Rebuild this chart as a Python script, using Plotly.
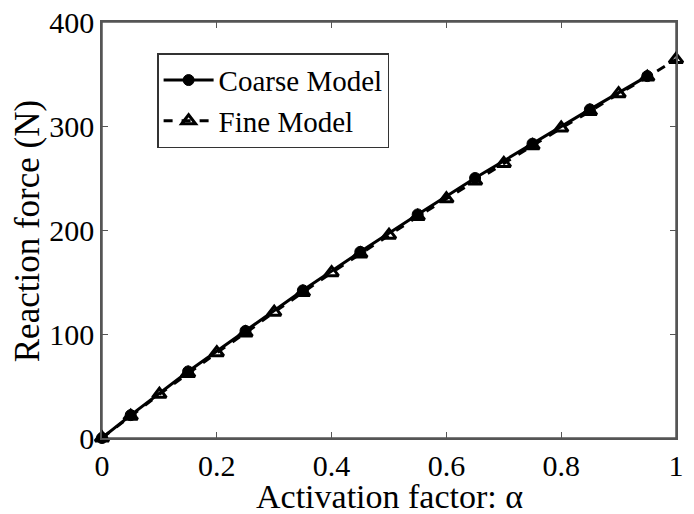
import plotly.graph_objects as go

coarse_x = [0, 0.05, 0.15, 0.25, 0.35, 0.45, 0.55, 0.65, 0.75, 0.85, 0.95]
coarse_y = [0, 22, 64, 103, 142, 179, 215, 250, 283, 316, 348]

fine_x = [0, 0.05, 0.1, 0.15, 0.2, 0.25, 0.3, 0.35, 0.4, 0.45, 0.5,
          0.55, 0.6, 0.65, 0.7, 0.75, 0.8, 0.85, 0.9, 0.95, 1.0]
fine_y = [0, 21, 42, 62, 82, 101, 121, 140, 159, 177, 195,
          213, 230, 247, 264, 281, 298, 314, 331, 347, 364]

x_ticks = [0, 0.2, 0.4, 0.6, 0.8, 1]
x_tick_labels = ["0", "0.2", "0.4", "0.6", "0.8", "1"]
y_ticks = [0, 100, 200, 300, 400]
y_tick_labels = ["0", "100", "200", "300", "400"]

x_title = "Activation factor: α"
y_title = "Reaction force (N)"

font_family = "Liberation Serif"

fig = go.Figure()
fig.add_trace(go.Scatter(
    x=coarse_x, y=coarse_y, name="Coarse Model", mode="lines+markers",
    line=dict(color="black", width=3),
    marker=dict(symbol="circle", size=11, color="black",
                line=dict(color="black", width=1)),
    cliponaxis=False,
))
fig.add_trace(go.Scatter(
    x=fine_x, y=fine_y, name="Fine Model", mode="lines+markers",
    line=dict(color="black", width=3, dash="dash"),
    marker=dict(symbol="triangle-up-open", size=12, color="black",
                line=dict(color="black", width=3)),
    cliponaxis=False,
))

axis_common = dict(
    showline=True, linecolor="#555555", linewidth=1.5, mirror="ticks",
    ticks="inside", ticklen=6, tickcolor="#555555", tickwidth=1,
    showgrid=False, zeroline=False, automargin=False,
    ticklabeloverflow="allow",
    tickfont=dict(family=font_family, size=30, color="black"),
)

fig.update_layout(
    width=694, height=514,
    margin=dict(l=94, r=26, t=14, b=84),
    paper_bgcolor="white", plot_bgcolor="white",
    font=dict(family=font_family, color="black"),
    xaxis=dict(range=[0, 1], tickvals=x_ticks, ticktext=x_tick_labels, **axis_common),
    yaxis=dict(range=[0, 400], tickvals=y_ticks, ticktext=y_tick_labels, **axis_common),
    legend=dict(x=0.096, y=0.925, xanchor="left", yanchor="top",
                bgcolor="white", bordercolor="#333333", borderwidth=1.5,
                font=dict(family=font_family, size=29, color="black"),
                tracegroupgap=0, itemwidth=50),
    showlegend=True,
    shapes=[dict(type="rect", xref="paper", yref="paper", x0=0, x1=1, y0=0, y1=1,
                 line=dict(color="#555555", width=1.5), layer="below")],
    annotations=[
        dict(text=x_title, xref="paper", yref="paper", x=0.5, y=0,
             xanchor="center", yanchor="top", yshift=-38, showarrow=False,
             font=dict(family=font_family, size=34, color="black")),
        dict(text=y_title, xref="paper", yref="paper", x=0, y=0.497,
             xanchor="center", yanchor="middle", xshift=-75, textangle=-90,
             showarrow=False,
             font=dict(family=font_family, size=35, color="black")),
    ],
)

fig.write_html("out.html")
